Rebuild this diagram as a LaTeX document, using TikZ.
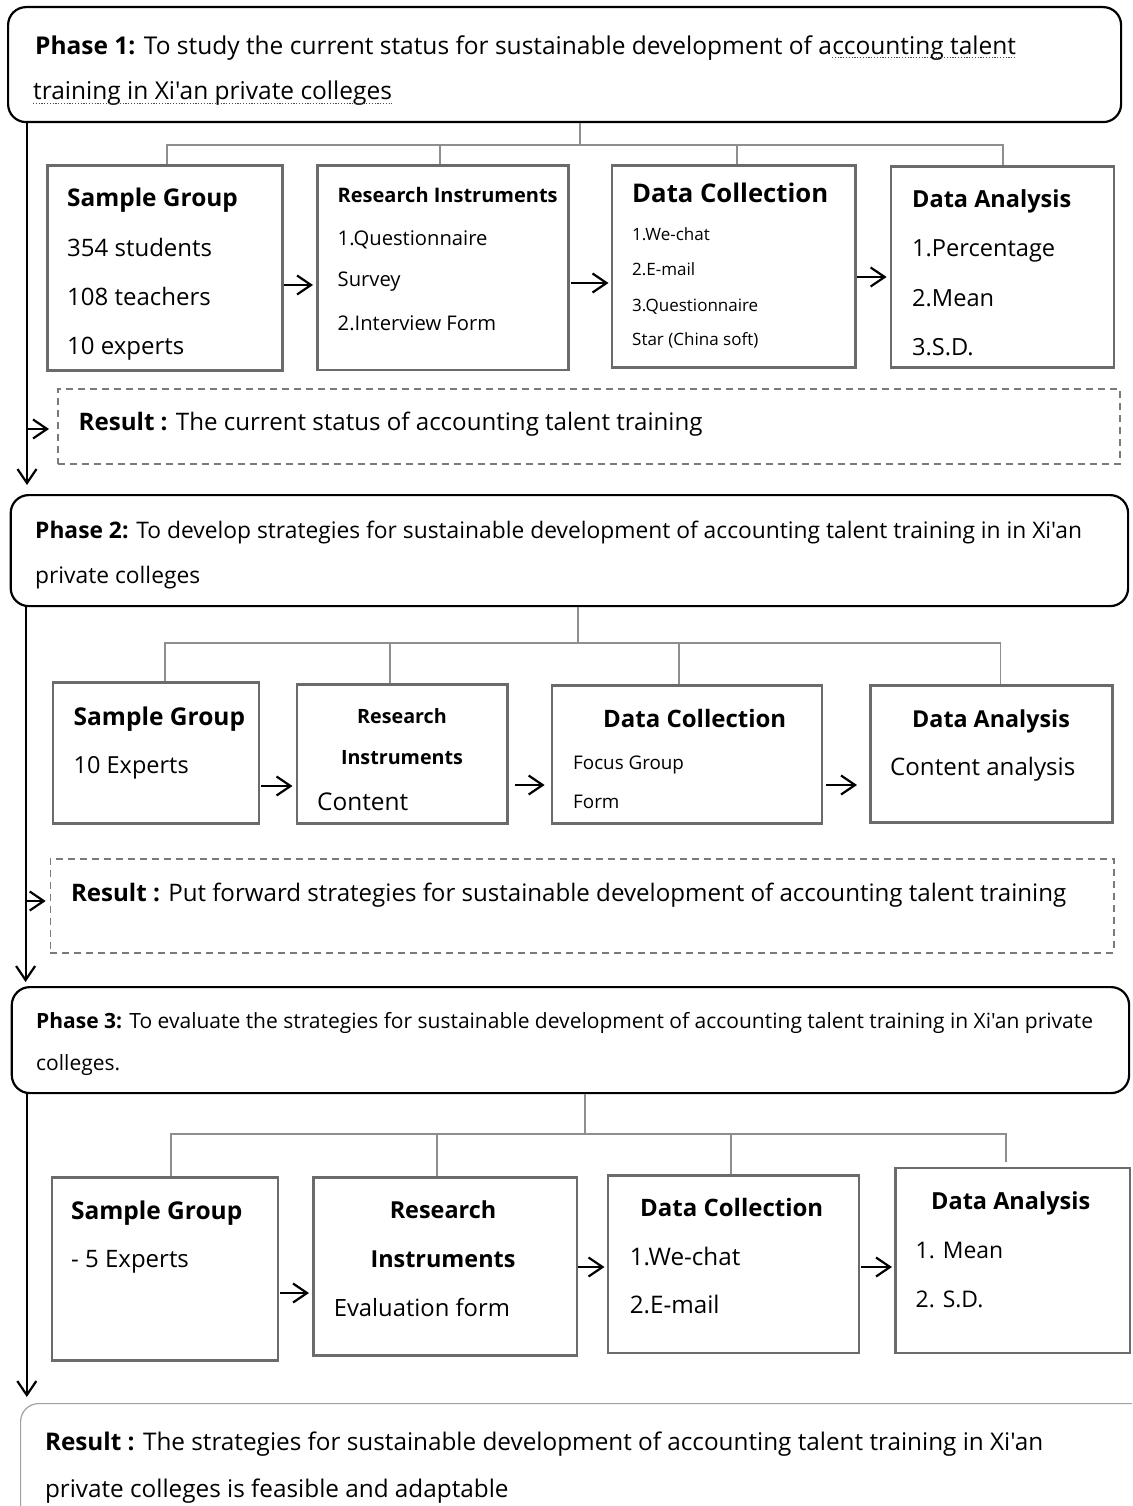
\documentclass[tikz,border=0pt]{standalone}
\usepackage{fontspec}
\setmainfont{Open Sans}[Ligatures=TeXOff]
\usetikzlibrary{arrows.meta}

\definecolor{boxgray}{HTML}{6B6B6B}
\definecolor{treegray}{HTML}{8E8E8E}
\definecolor{dashgray}{HTML}{7A7A7A}
\definecolor{softgray}{HTML}{A0A0A0}

\newcommand\setfs[1]{\fontsize{#1pt}{#1pt}\selectfont}

\tikzset{
  phase/.style={draw=black, line width=2.2pt, rounded corners=18pt, inner sep=0pt, anchor=north west},
  stagebox/.style={draw=boxgray, line width=2.6pt, inner sep=0pt, anchor=north west},
  resultbox/.style={draw=dashgray, line width=1.5pt, dash pattern=on 7pt off 5pt, inner sep=0pt, anchor=north west},
  txt/.style={inner sep=0pt, anchor=base west, text=black},
  ctxt/.style={inner sep=0pt, anchor=base, text=black},
  tree/.style={draw=treegray, line width=1.6pt},
  dotline/.style={draw=black!70, line width=1pt, dash pattern=on 1.2pt off 1.6pt},
  flow/.style={draw=black, line width=2.2pt, -{Straight Barb[length=14pt,width=19pt,line width=2.2pt]}},
}

\begin{document}
\begin{tikzpicture}[x=1pt, y=-1pt]
\useasboundingbox (0,0) rectangle (1132,1506);
\clip (0,0) rectangle (1132,1506);

% ---------------- Phase 1 ----------------
\node[phase, minimum width=1113pt, minimum height=115pt] (p1) at (7,6) {};
\node[txt] (p1a) at (35,54.5) {\setfs{24.5}\textbf{Phase 1:} To study the current status for sustainable development of a};
\node[txt] (p1u) at (p1a.base east) {\setfs{24.5}ccounting talent};
\node[txt] (p1b) at (33,100) {\setfs{24.5}training in Xi'an private colleges};
\draw[dotline] ([yshift=-3pt]p1u.base west) -- ([yshift=-3pt]p1u.base east);
\draw[dotline] ([yshift=-3.5pt]p1b.base west) -- ([yshift=-3.5pt]p1b.base east);

\node[stagebox, minimum width=235pt, minimum height=205pt] (sg1) at (46,164) {};
\node[stagebox, minimum width=251pt, minimum height=204pt] (ri1) at (316,164.5) {};
\node[stagebox, minimum width=243.5pt, minimum height=202pt] (dc1) at (610.5,164) {};
\node[stagebox, minimum width=223pt, minimum height=201pt] (da1) at (889.6,165) {};

\node[txt] (sg1t) at (67,207) {\setfs{24.4}\textbf{Sample Group}};
\node[txt] (sg1a) at (67,257) {\setfs{24}354 students};
\node[txt] (sg1b) at (67,305) {\setfs{24}108 teachers};
\node[txt] (sg1c) at (67,354) {\setfs{24}10 experts};

\node[txt] (ri1t) at (337.5,203) {\setfs{20}\textbf{Research Instruments}};
\node[txt] (ri1a) at (337.5,246) {\setfs{20.2}1.Questionnaire};
\node[txt] (ri1b) at (337.5,287) {\setfs{20.2}Survey};
\node[txt] (ri1c) at (337.5,330) {\setfs{20.2}2.Interview Form};

\node[txt] (dc1t) at (632,203) {\setfs{25.7}\textbf{Data Collection}};
\node[txt] (dc1a) at (632,241) {\setfs{17}1.We-chat};
\node[txt] (dc1b) at (632,275) {\setfs{17}2.E-mail};
\node[txt] (dc1c) at (632,311) {\setfs{17}3.Questionnaire};
\node[txt] (dc1d) at (632,345) {\setfs{17}Star (China soft)};

\node[txt] (da1t) at (912,208) {\setfs{23.5}\textbf{Data Analysis}};
\node[txt] (da1a) at (912,257) {\setfs{23.6}1.Percentage};
\node[txt] (da1b) at (912,306) {\setfs{23.6}2.Mean};
\node[txt] (da1c) at (912,355) {\setfs{23.6}3.S.D.};

\node[resultbox, minimum width=1062pt, minimum height=75pt] (r1) at (57,388) {};
\node[txt] (r1t) at (78.5,430) {\setfs{24.1}\textbf{Result :} The current status of accounting talent training};

% tree of phase 1
\coordinate (h1) at (580,145);
\draw[tree] (p1.south -| h1) -- (h1);
\draw[tree] (sg1.north -| 167,0) -- (167,145) -- (1003,145) -- (da1.north -| 1003,0);
\draw[tree] (ri1.north -| 440,0) -- (440,145);
\draw[tree] (dc1.north -| 737,0) -- (737,145);

% flow of phase 1
\draw[flow, shorten >=3pt] (sg1.east |- 0,285) -- (ri1.west |- 0,285);
\draw[flow, shorten <=1pt, shorten >=2pt] (ri1.east |- 0,283) -- (dc1.west |- 0,283);
\draw[flow, shorten >=3pt] (dc1.east |- 0,277) -- (da1.west |- 0,277);

% main line of phase 1
\coordinate (d1) at (27,485);
\draw[flow] (p1.south -| d1) -- (d1);
\draw[flow, shorten >=8pt] (27,429) -- (r1.west |- 0,429);

% ---------------- Phase 2 ----------------
\node[phase, minimum width=1117.4pt, minimum height=111pt] (p2) at (9.6,494) {};
\node[txt] (p2a) at (35,538) {\setfs{22.8}\textbf{Phase 2:} To develop strategies for sustainable development of accounting talent training in in Xi'an};
\node[txt] (p2b) at (35,583) {\setfs{22.8}private colleges};

\node[stagebox, minimum width=206pt, minimum height=141pt] (sg2) at (51.7,681) {};
\node[stagebox, minimum width=210.5pt, minimum height=139pt] (ri2) at (295.5,683) {};
\node[stagebox, minimum width=270pt, minimum height=138pt] (dc2) at (550.6,684) {};
\node[stagebox, minimum width=242pt, minimum height=137pt] (da2) at (869,684) {};

\node[txt] (sg2t) at (73.5,725) {\setfs{24.5}\textbf{Sample Group}};
\node[txt] (sg2a) at (73.5,773) {\setfs{23.5}10 Experts};

\node[ctxt] (ri2t) at (402,723) {\setfs{19.7}\textbf{Research}};
\node[ctxt] (ri2u) at (402,764) {\setfs{19.7}\textbf{Instruments}};
\node[txt] (ri2a) at (317,810) {\setfs{24.4}Content};

\node[txt] (dc2t) at (603,727) {\setfs{24}\textbf{Data Collection}};
\node[txt] (dc2a) at (573,769) {\setfs{18.8}Focus Group};
\node[txt] (dc2b) at (573,808) {\setfs{18.8}Form};

\node[txt] (da2t) at (912,727) {\setfs{23.3}\textbf{Data Analysis}};
\node[txt] (da2a) at (890,775) {\setfs{24.1}Content analysis};

\node[resultbox, minimum width=1063.3pt, minimum height=94pt] (r2) at (49.7,858) {};
\node[txt] (r2t) at (70.8,901) {\setfs{24.1}\textbf{Result :} Put forward strategies for sustainable development of accounting talent training};

% tree of phase 2
\coordinate (h2) at (578,643);
\draw[tree] (p2.south -| h2) -- (h2);
\draw[tree] (sg2.north -| 165,0) -- (165,643) -- (1000.5,643) -- (da2.north -| 1000.5,0);
\draw[tree] (ri2.north -| 390,0) -- (390,643);
\draw[tree] (dc2.north -| 679,0) -- (679,643);

% flow of phase 2
\draw[flow, shorten <=1pt, shorten >=3pt] (sg2.east |- 0,786) -- (ri2.west |- 0,786);
\draw[flow, shorten <=6pt, shorten >=6pt] (ri2.east |- 0,785) -- (dc2.west |- 0,785);
\draw[flow, shorten <=3pt, shorten >=12pt] (dc2.east |- 0,785) -- (da2.west |- 0,785);

% main line of phase 2
\coordinate (d2) at (25.6,982);
\draw[flow] (p2.south -| d2) -- (d2);
\draw[flow, shorten >=4pt] (25.6,901) -- (r2.west |- 0,901);

% ---------------- Phase 3 ----------------
\node[phase, minimum width=1117.3pt, minimum height=106pt] (p3) at (10.7,986) {};
\node[txt] (p3a) at (36,1028) {\setfs{21}\textbf{Phase 3:} To evaluate the strategies for sustainable development of accounting talent training in Xi'an private};
\node[txt] (p3b) at (36,1070) {\setfs{21}colleges.};

\node[stagebox, minimum width=226pt, minimum height=183pt] (sg3) at (50.5,1176) {};
\node[stagebox, minimum width=263.5pt, minimum height=178pt] (ri3) at (312,1176) {};
\node[stagebox, minimum width=251.3pt, minimum height=177.7pt] (dc3) at (606.5,1174) {};
\node[stagebox, minimum width=234.5pt, minimum height=185pt] (da3) at (894,1166.7) {};

\node[txt] (sg3t) at (70.8,1219) {\setfs{24.5}\textbf{Sample Group}};
\node[txt] (sg3a) at (71,1267) {\setfs{24}- 5 Experts};

\node[ctxt] (ri3t) at (443,1218) {\setfs{23.4}\textbf{Research}};
\node[ctxt] (ri3u) at (443,1267) {\setfs{23.4}\textbf{Instruments}};
\node[txt] (ri3a) at (333.6,1316) {\setfs{23.8}Evaluation form};

\node[txt] (dc3t) at (640,1216) {\setfs{24}\textbf{Data Collection}};
\node[txt] (dc3a) at (629.6,1265) {\setfs{24.2}1.We-chat};
\node[txt] (dc3b) at (629.6,1313) {\setfs{24.2}2.E-mail};

\node[txt] (da3t) at (931,1209) {\setfs{23.5}\textbf{Data Analysis}};
\node[txt] (da3a) at (915.5,1258) {\setfs{22.9}1. Mean};
\node[txt] (da3b) at (915.5,1307) {\setfs{22.9}2. S.D.};

% tree of phase 3
\coordinate (h3) at (585,1134);
\draw[tree] (p3.south -| h3) -- (h3);
\draw[tree] (sg3.north -| 171,0) -- (171,1134) -- (1006,1134) -- (1006,1162);
\draw[tree] (ri3.north -| 437,0) -- (437,1134);
\draw[tree] (dc3.north -| 731,0) -- (731,1134);

% flow of phase 3
\draw[flow, shorten <=1pt, shorten >=3pt] (sg3.east |- 0,1293) -- (ri3.west |- 0,1293);
\draw[flow, shorten >=2pt] (ri3.east |- 0,1267) -- (dc3.west |- 0,1267);
\draw[flow, shorten <=1pt, shorten >=2pt] (dc3.east |- 0,1267) -- (da3.west |- 0,1267);

% main line of phase 3
\coordinate (d3) at (26.8,1397);
\draw[flow] (p3.south -| d3) -- (d3);

% ---------------- final result ----------------
\node[draw=softgray, line width=1.2pt, rounded corners=18pt, inner sep=0pt, anchor=north west,
      minimum width=1130pt, minimum height=140pt] (r3) at (20,1403) {};
\node[txt] (r3a) at (44.8,1450) {\setfs{24.3}\textbf{Result :} The strategies for sustainable development of accounting talent training in Xi'an};
\node[txt] (r3b) at (44.8,1497) {\setfs{24.3}private colleges is feasible and adaptable};
\end{tikzpicture}
\end{document}
